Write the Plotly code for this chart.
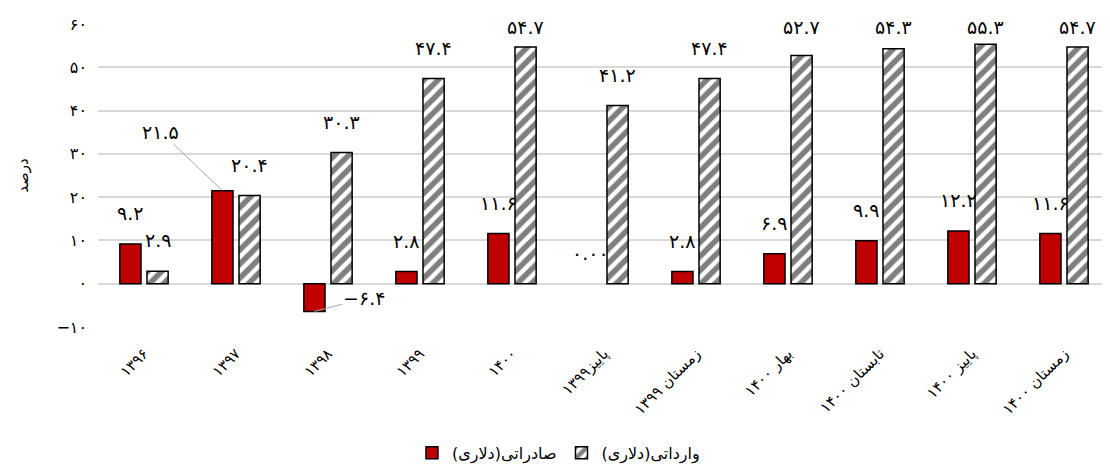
import plotly.graph_objects as go

# Data (percent)
categories = ["۱۳۹۶", "۱۳۹۷", "۱۳۹۸", "۱۳۹۹", "۱۴۰۰", "پاییز۱۳۹۹", "زمستان ۱۳۹۹",
              "بهار ۱۴۰۰", "تابستان ۱۴۰۰", "پاییز ۱۴۰۰", "زمستان ۱۴۰۰"]
exports = [9.2, 21.5, -6.4, 2.8, 11.6, 0.0, 2.8, 6.9, 9.9, 12.2, 11.6]
imports = [2.9, 20.4, 30.3, 47.4, 54.7, 41.2, 47.4, 52.7, 54.3, 55.3, 54.7]
y_ticks = [-10, 0, 10, 20, 30, 40, 50, 60]

RLM = "\u200f"
FA = str.maketrans("0123456789-", "۰۱۲۳۴۵۶۷۸۹−")


def fa(v, fmt="{:.1f}"):
    return fmt.format(v).translate(FA)


FONT = "DejaVu Sans"
# page has an 8px body margin, so the figure is a little smaller than the window
W, H = 1102, 462
M = dict(l=90, r=0, t=16, b=140)
BARGAP = 0.41
cat_w = (W - M["l"] - M["r"]) / len(categories)
half = cat_w * (1 - BARGAP) / 4  # offset of each bar centre from the category centre

fig = go.Figure()
fig.add_trace(go.Bar(
    x=categories, y=exports, name="صادراتی(دلاری)" + RLM,
    marker=dict(color="#C00000",
                line=dict(color="black", width=[0 if v == 0 else 1.5 for v in exports])),
))
fig.add_trace(go.Bar(
    x=categories, y=imports, name="وارداتی(دلاری)" + RLM,
    marker=dict(color="white", line=dict(color="black", width=1.5),
                pattern=dict(shape="/", fgcolor="black", bgcolor="white",
                             size=10, solidity=0.55)),
))

# data labels
LBL = dict(size=19)
leaders = {1: (-62, -59), 2: (50, -13)}
for i, (c, v) in enumerate(zip(categories, exports)):
    txt = fa(v, "{:.2f}") if v == 0 else fa(v)
    if i in leaders:
        ax, ay = leaders[i]
        fig.add_annotation(x=c, y=v, xshift=-half, text=txt, showarrow=True,
                           arrowhead=0, arrowwidth=1, arrowcolor="#a6a6a6",
                           ax=ax, ay=ay, font=LBL)
    else:
        fig.add_annotation(x=c, y=min(v + 7.1, 59.3), xshift=-half, text=txt,
                           showarrow=False, font=LBL)
for c, v in zip(categories, imports):
    fig.add_annotation(x=c, y=min(v + 7.1, 59.3), xshift=half, text=fa(v),
                       showarrow=False, font=LBL)

fig.update_layout(
    width=W, height=H, autosize=False, margin=M,
    plot_bgcolor="white", paper_bgcolor="white",
    font=dict(family=FONT, size=15, color="black"),
    barmode="group", bargap=BARGAP, bargroupgap=0.22,
    showlegend=True,
    legend=dict(orientation="h", x=0.455, xanchor="center", y=-0.415,
                yanchor="middle", font=dict(size=16)),
    xaxis=dict(tickangle=-45, showgrid=False, showline=False, ticks="",
               automargin=False, ticklabelstandoff=14, tickfont=dict(size=15)),
    yaxis=dict(range=[-10, 60], tickvals=y_ticks, automargin=False,
               ticktext=[fa(t, "{:d}") for t in y_ticks],
               gridcolor="#d9d9d9", gridwidth=1.5, zeroline=True,
               zerolinecolor="#d9d9d9", zerolinewidth=1.5, showline=False,
               ticklabelstandoff=10, tickfont=dict(size=16),
               title=dict(text="درصد", standoff=24, font=dict(size=15))),
)

fig.write_html("out.html")
